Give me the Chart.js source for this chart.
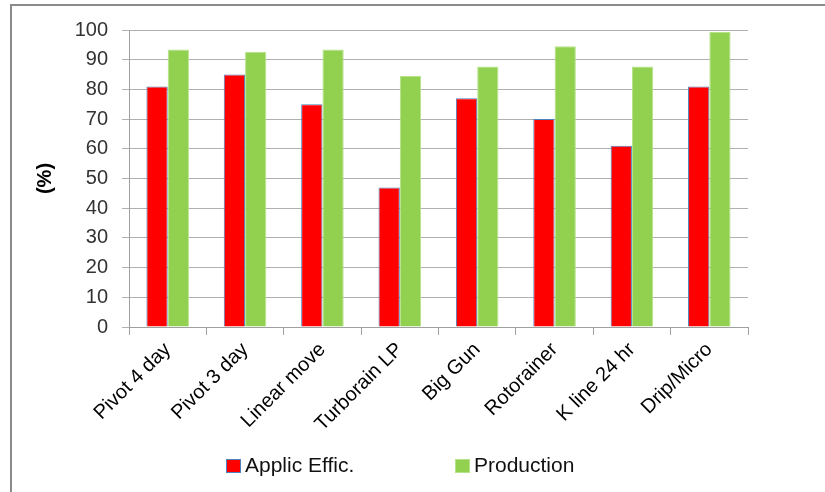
<!DOCTYPE html>
<html>
<head>
<meta charset="utf-8">
<script src="https://cdn.jsdelivr.net/npm/chart.js@4/dist/chart.umd.min.js"></script>
<style>
  html, body { margin: 0; padding: 0; background: #fff; }
  #wrap { position: relative; width: 825px; height: 492px; overflow: hidden; }
  #frame { position: absolute; left: 10px; top: 4px; width: 900px; height: 600px;
           border-top: 2px solid #8a8a8a; border-left: 2px solid #8a8a8a; }
  canvas { position: absolute; left: 0; top: 0; }
  #legend { position: absolute; top: 452px; left: 0; width: 825px; height: 26px;
            font-family: "Liberation Sans", Arial, sans-serif; font-size: 21px; color: #111; }
  .item { position: absolute; top: 0; line-height: 26px; white-space: nowrap; }
  .box { display: inline-block; width: 15px; height: 14px; vertical-align: -1px; margin-right: 4px; box-sizing: border-box; }
</style>
</head>
<body>
<div id="wrap">
  <div id="frame"></div>
  <canvas id="irrChart" width="825" height="492"></canvas>
  <div id="legend"></div>
</div>
<script>
const systems = ["Pivot 4 day", "Pivot 3 day", "Linear move", "Turborain LP", "Big Gun", "Rotorainer", "K line 24 hr", "Drip/Micro"];
const applicEffic = [81, 85, 75, 47, 77, 70, 61, 81];
const production = [93.4, 92.7, 93.4, 84.5, 87.7, 94.5, 87.7, 99.3];
const seriesNames = ["Applic Effic.", "Production"];
const yTicks = [0, 100, 10];

const chart = new Chart(document.getElementById('irrChart').getContext('2d'), {
    type: 'bar',
    data: {
        labels: systems,
        datasets: [{
            label: seriesNames[0],
            data: applicEffic,
            backgroundColor: '#FF0000',
            borderColor: '#4F81BD',
            borderWidth: 1,
            categoryPercentage: 0.55,
            barPercentage: 1
        }, {
            label: seriesNames[1],
            data: production,
            backgroundColor: '#92D050',
            borderColor: '#B6E28A',
            borderWidth: 1,
            categoryPercentage: 0.55,
            barPercentage: 1
        }]
    },
    options: {
        responsive: false,
        animation: false,
        layout: { padding: { left: 33, right: 77, top: 30, bottom: 60 } },
        plugins: {
            legend: { display: false },
            tooltip: { enabled: false }
        },
        scales: {
            x: {
                grid: { display: true, drawOnChartArea: false, offset: true, color: '#a0a0a0', tickLength: 8 },
                border: { color: '#a0a0a0', width: 1 },
                ticks: {
                    minRotation: 45, maxRotation: 45, padding: 3,
                    color: '#000',
                    font: { family: '"Liberation Sans", Arial, sans-serif', size: 20 }
                },
                afterFit: (s) => { s.height = 105; }
            },
            y: {
                min: yTicks[0], max: yTicks[1],
                grid: { color: '#b0b0b0', tickLength: 7 },
                border: { color: '#a0a0a0', width: 1 },
                ticks: {
                    stepSize: yTicks[2], padding: 14,
                    color: '#333',
                    font: { family: '"Liberation Sans", Arial, sans-serif', size: 20 }
                },
                title: {
                    display: true, text: '(%)', color: '#000', padding: 0,
                    font: { family: '"Liberation Sans", Arial, sans-serif', size: 20, weight: 'bold' }
                },
                afterFit: (s) => { s.width = 96; }
            }
        }
    }
});

// HTML legend built from the datasets
const legend = document.getElementById('legend');
const lefts = [226, 455];
chart.data.datasets.forEach((ds, i) => {
    const it = document.createElement('span');
    it.className = 'item';
    it.style.left = lefts[i] + 'px';
    const b = document.createElement('span');
    b.className = 'box';
    b.style.background = ds.backgroundColor;
    b.style.border = '1px solid ' + ds.borderColor;
    it.appendChild(b);
    it.appendChild(document.createTextNode(ds.label));
    legend.appendChild(it);
});
</script>
</body>
</html>
